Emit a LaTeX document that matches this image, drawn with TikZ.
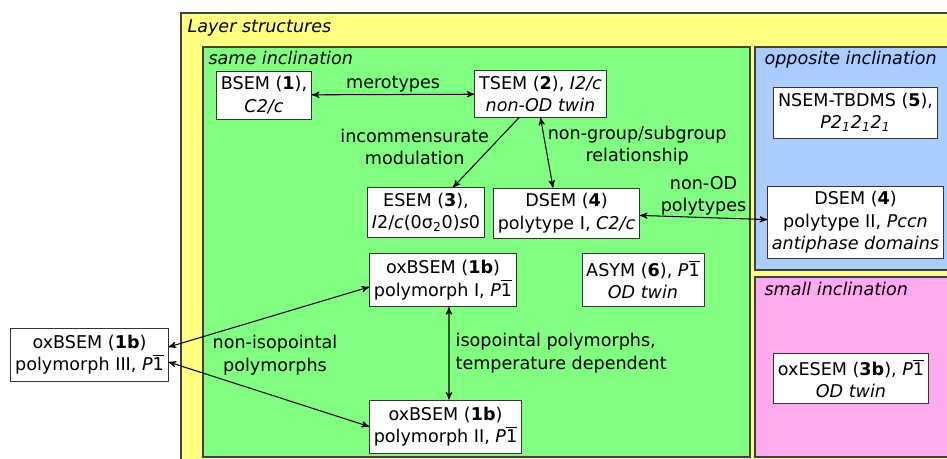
\documentclass[tikz,border=0pt]{standalone}
\usepackage{fontspec}
\setmainfont{DejaVu Sans}
\usetikzlibrary{arrows,positioning}
\definecolor{layer}{HTML}{FFFF80}
\definecolor{same}{HTML}{80FF80}
\definecolor{opposite}{HTML}{AACCFF}
\definecolor{small}{HTML}{FFAAEE}
\newcommand{\pbar}{\textit{P}$\overline{\mbox{1}}$}

\begin{document}
\begin{tikzpicture}[x=0.02cm,y=-0.02cm,>=stealth',semithick,font=\fontsize{10}{12.8}\selectfont]
\tikzstyle{every node}=[align=center]
\tikzstyle{region}=[draw=black!75,line width=0.6pt]
\tikzstyle{title}=[anchor=base west,font=\itshape,inner sep=0pt]
\tikzstyle{phase}=[draw=black!80,fill=white,thin,inner xsep=2.5pt,inner ysep=3pt]
\useasboundingbox (0,0) rectangle (947,459);

% regions
\draw[region,fill=layer]    (181,13) rectangle (990,490);
\draw[region,fill=same]     (203,47) rectangle (750,457);
\draw[region,fill=opposite] (755,47) rectangle (990,270);
\draw[region,fill=small]    (755,277) rectangle (990,457);

\node[title] (LS) at (187,33) {Layer structures};
\node[title] (SI) at (208,65) {same inclination};
\node[title] (OI) at (764,65) {opposite inclination};
\node[title] (SM) at (764,296) {small inclination};

% phases
\node[phase] (BS)  at (264,95)    {BSEM (\textbf{1}),\\\textit{C2/c}};
\node[phase] (TS)  at (540.5,94)  {TSEM (\textbf{2}), \textit{I2/c}\\\textit{non-OD twin}};
\node[phase] (ES)  at (426,212.5) {ESEM (\textbf{3}),\\\textit{I}2/\textit{c}(0σ\textsubscript{2}0)\textit{s}0};
\node[phase] (DS1) at (566.5,213) {DSEM (\textbf{4})\\polytype I, \textit{C2/c}};
\node[phase] (NS)  at (855.5,112.5) [minimum height=1.02cm] {NSEM-TBDMS (\textbf{5}),\\\textit{P2\textsubscript{1}2\textsubscript{1}2\textsubscript{1}}};
\node[phase] (DS2) at (855.5,222.5) {DSEM (\textbf{4})\\polytype II, \textit{Pccn}\\\textit{antiphase domains}};
\node[phase] (OX1) at (443,280)   [minimum height=1.07cm] {oxBSEM (\textbf{1b})\\polymorph I, \pbar};
\node[phase] (OX2) at (445.5,426.5) [minimum height=1.06cm] {oxBSEM (\textbf{1b})\\polymorph II, \pbar};
\node[phase] (OX3) at (89.5,354.5) [minimum height=1.06cm] {oxBSEM (\textbf{1b})\\polymorph III, \pbar};
\node[phase] (AS)  at (643,279.5) [minimum height=1.06cm] {ASYM (\textbf{6}), \pbar\\\textit{OD twin}};
\node[phase] (OE)  at (851,378.5) {oxESEM (\textbf{3b}), \pbar\\\textit{OD twin}};

\node (NI) at (275,355) {non-isopointal\\polymorphs};

\path[->]
([xshift=-0.43cm]TS.south) edge node[pos=0.42,anchor=east,inner sep=1pt] {incommensurate\\modulation} ([xshift=0.54cm]ES.north);

\path[<->]
(BS) edge node[above,inner sep=1pt] {merotypes} (TS)
(TS.south) edge node[pos=0.4,anchor=west,inner sep=1pt] {non-group/subgroup\\relationship} ([xshift=-0.27cm]DS1.north)
(DS1) edge node[above,inner sep=1pt] {non-OD\\polytypes} (DS2)
([yshift=0.15cm]OX3.east) edge ([yshift=-0.14cm]OX1.west)
([yshift=-0.15cm]OX3.east) edge (OX2.west)
([xshift=0.12cm]OX1.south) edge node[anchor=west,align=left,inner sep=3.5pt] {isopointal polymorphs,\\temperature dependent} ([xshift=0.07cm]OX2.north);
\end{tikzpicture}
\end{document}
